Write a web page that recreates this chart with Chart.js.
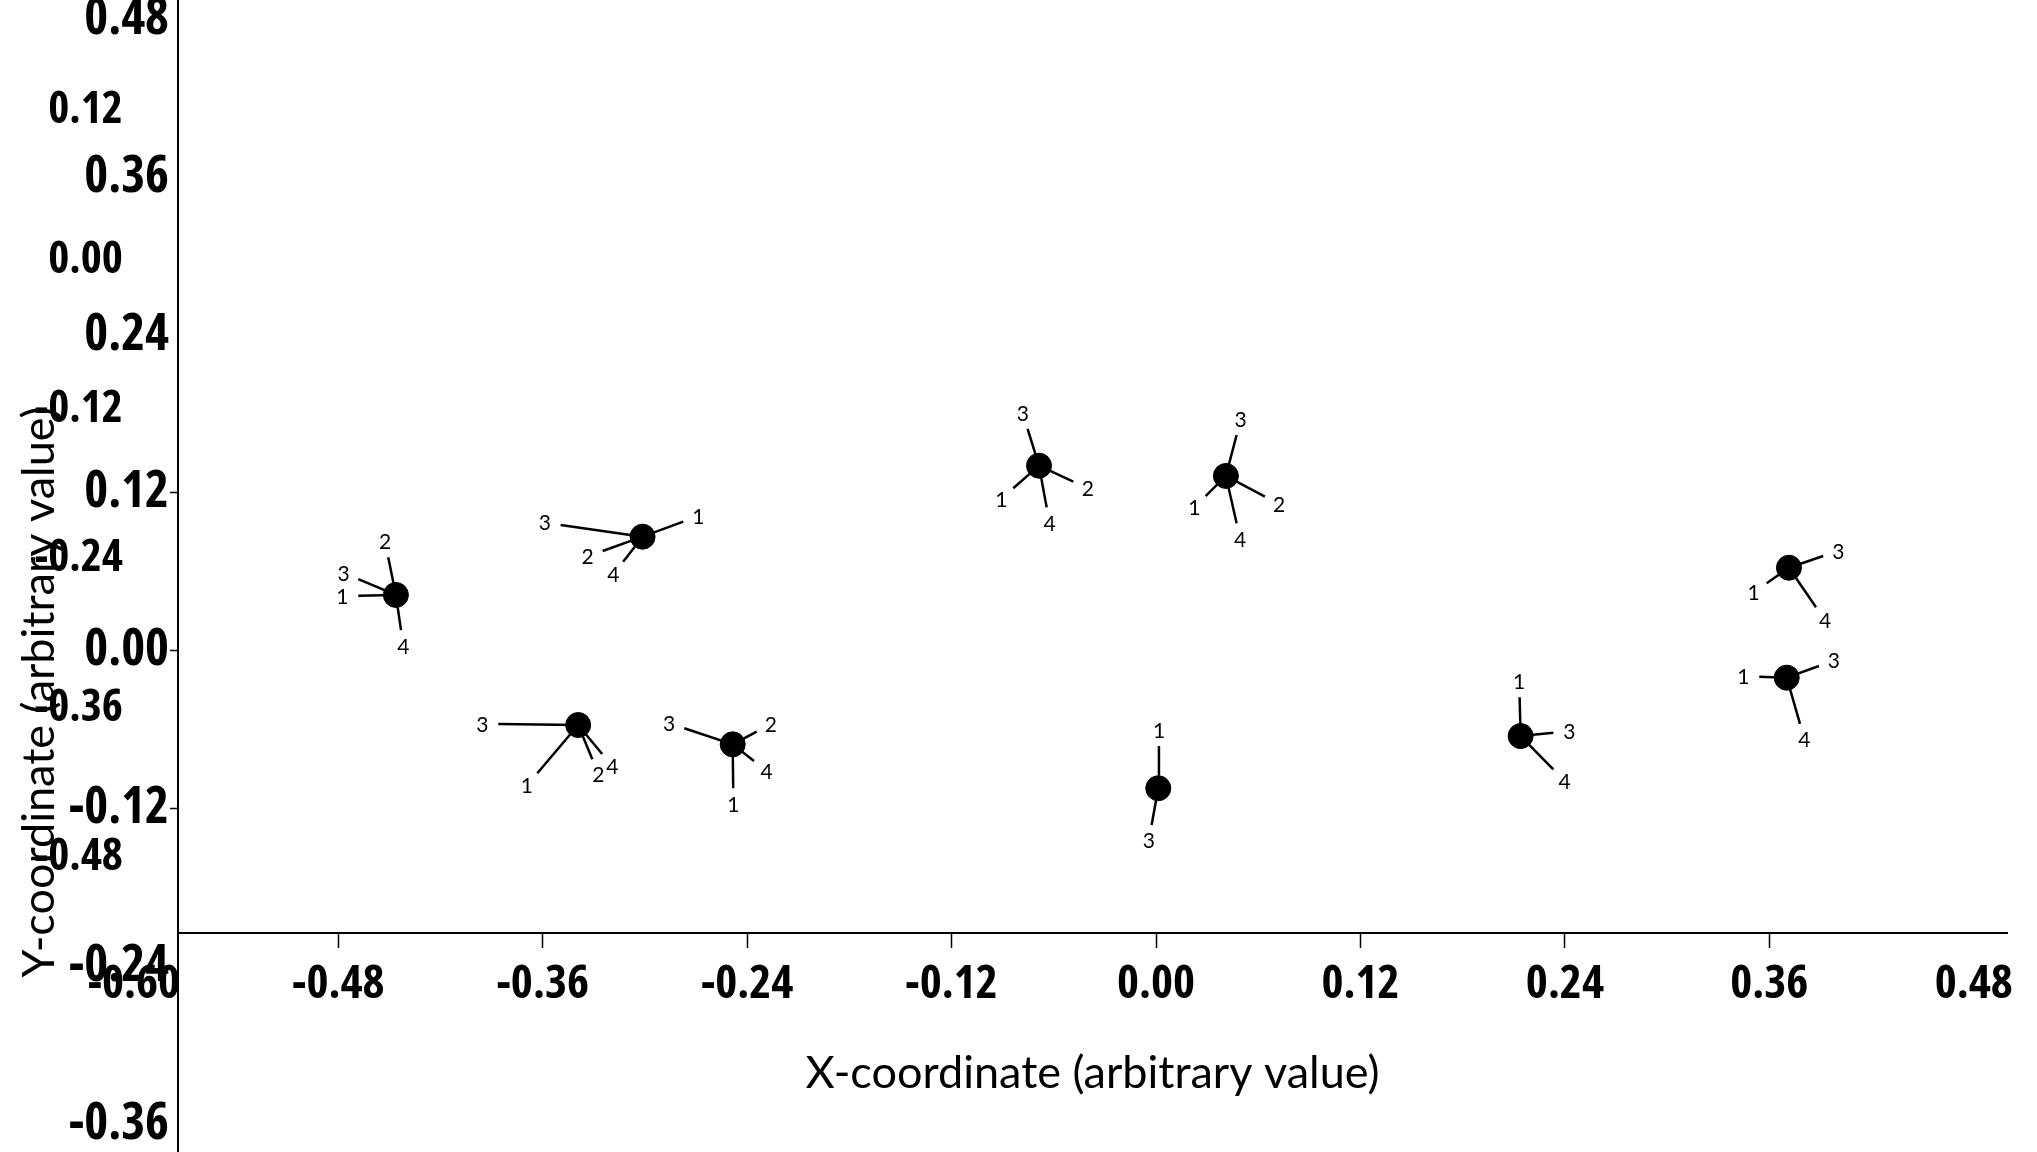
<!DOCTYPE html>
<html>
<head>
<meta charset="utf-8">
<script src="https://cdn.jsdelivr.net/npm/chart.js@4.4.1/dist/chart.umd.min.js"></script>
<style>
    html, body { margin: 0; padding: 0; background: #fff; overflow: hidden; }
    #div_c1 { width: 2037px; height: 1152px; overflow: hidden; }
</style>
</head>
<body>
<div id="div_c1"><canvas id="Chart1" width="2037" height="1384"></canvas></div>
<script>
// tick labels
var xTicks = [-0.60, -0.48, -0.36, -0.24, -0.12, 0.00, 0.12, 0.24, 0.36, 0.48];
var yTicks = [0.48, 0.36, 0.24, 0.12, 0.00, -0.12, -0.24, -0.36];
var yTicks2 = [0.12, 0.00, -0.12, -0.24, -0.36, -0.48];

// points (dots)
var pointX = [-0.4462, -0.3014, -0.3392, -0.2485, -0.0687, 0.0410, 0.0013, 0.2140, 0.3715, 0.3702];
var pointY = [0.0424, 0.0867, -0.0565, -0.0712, 0.1407, 0.1329, -0.1046, -0.0649, 0.0631, -0.0205];

// spokes of each point: label and end coordinates
var spokeLabels = [
    ['2', '3', '1', '4'],
    ['1', '3', '2', '4'],
    ['3', '1', '2', '4'],
    ['3', '2', '4', '1'],
    ['3', '1', '2', '4'],
    ['3', '1', '2', '4'],
    ['1', '3'],
    ['1', '3', '4'],
    ['3', '1', '4'],
    ['3', '1', '4']
];
var spokeEndX = [
    [-0.4507, -0.4683, -0.4683, -0.4432],
    [-0.2775, -0.3495, -0.3248, -0.3128],
    [-0.3861, -0.3632, -0.3309, -0.3251],
    [-0.2769, -0.2344, -0.2360, -0.2482],
    [-0.0754, -0.0838, -0.0486, -0.0642],
    [0.0473, 0.0291, 0.0639, 0.0473],
    [0.0017, -0.0026],
    [0.2134, 0.2332, 0.2332],
    [0.3916, 0.3584, 0.3874],
    [0.3891, 0.3541, 0.3780]
];
var spokeEndY = [
    [0.0710, 0.0545, 0.0418, 0.0157],
    [0.0981, 0.0956, 0.0758, 0.0677],
    [-0.0557, -0.0932, -0.0826, -0.0786],
    [-0.0590, -0.0616, -0.0839, -0.1046],
    [0.1686, 0.1235, 0.1285, 0.1090],
    [0.1640, 0.1176, 0.1171, 0.0969],
    [-0.0725, -0.1325],
    [-0.0354, -0.0624, -0.0902],
    [0.0720, 0.0513, 0.0330],
    [-0.0116, -0.0198, -0.0557]
];

var titleFont = "Lato, 'Open Sans', sans-serif";

// the tick numbers are a tall, narrow bold face: take the installed one closest to it
var tickFontCandidates = [
    {family: "'Liberation Sans Narrow'", weight: 'bold'},
    {family: "'DejaVu Sans Condensed'", weight: 'bold'},
    {family: "'Noto Sans'", weight: 'bold condensed'},
    {family: "'Noto Sans'", weight: 'bold semi-condensed'},
    {family: "'Open Sans'", weight: 'bold condensed'},
    {family: "'Open Sans'", weight: 'bold semi-condensed'},
    {family: "'DejaVu Sans'", weight: 'bold condensed'},
    {family: "Roboto", weight: 'bold condensed'},
    {family: "'Liberation Sans'", weight: 'bold'}
];

function pickTickFont() {
    var c = document.createElement('canvas').getContext('2d');
    var best = null;
    tickFontCandidates.forEach(function (f) {
        c.font = f.weight + ' 100px ' + f.family;
        var w = c.measureText('0.00').width;
        var h = c.measureText('0').actualBoundingBoxAscent;
        var score = Math.abs(h / w - 0.56);
        if (!best || score < best.score - 0.005) {
            best = {family: f.family, weight: f.weight, w: w, score: score};
        }
    });
    return best;
}
var tf = pickTickFont();
function tickSize(targetWidth) {
    return Math.round(targetWidth / tf.w * 100);
}

Chart.defaults.color = '#000';
Chart.defaults.font.family = titleFont;

function zeroPad(scale) {
    scale.paddingLeft = 0;
    scale.paddingRight = 0;
    scale.paddingTop = 0;
    scale.paddingBottom = 0;
}

function fmt(value) {
    return Number(value).toFixed(2);
}

var datasets = [{
    label: 'points',
    data: pointX.map(function (x, i) { return {x: x, y: pointY[i]}; }),
    backgroundColor: '#000',
    borderColor: '#000',
    pointRadius: 12.5,
    order: 0
}];
var spokeSets = [];
for (var i = 0; i < pointX.length; i++) {
    for (var j = 0; j < spokeLabels[i].length; j++) {
        datasets.push({
            label: 'spoke',
            data: [{x: pointX[i], y: pointY[i]}, {x: spokeEndX[i][j], y: spokeEndY[i][j]}],
            showLine: true,
            borderColor: '#000',
            borderWidth: 2.5,
            pointRadius: 0,
            order: 1
        });
        spokeSets.push({index: datasets.length - 1, label: spokeLabels[i][j]});
    }
}

var spokeLabelPlugin = {
    id: 'spokeLabels',
    afterDatasetsDraw: function (chart) {
        var ctx = chart.ctx;
        ctx.save();
        ctx.font = '21px ' + titleFont;
        ctx.fillStyle = '#000';
        ctx.textAlign = 'center';
        ctx.textBaseline = 'middle';
        spokeSets.forEach(function (s) {
            var meta = chart.getDatasetMeta(s.index);
            var p0 = meta.data[0], p1 = meta.data[1];
            var dx = p1.x - p0.x, dy = p1.y - p0.y;
            var len = Math.sqrt(dx * dx + dy * dy) || 1;
            ctx.fillText(s.label, p1.x + dx / len * 16, p1.y + dy / len * 16 + 1);
        });
        ctx.restore();
    }
};

var ctx1 = document.getElementById('Chart1');
var crt1 = new Chart(ctx1, {
    type: 'scatter',
    data: {datasets: datasets},
    plugins: [spokeLabelPlugin],
    options: {
        responsive: false,
        animation: false,
        devicePixelRatio: 1,
        events: [],
        layout: {autoPadding: false, padding: {left: 0, right: 30, top: 0, bottom: 0}},
        plugins: {
            legend: {display: false},
            tooltip: {enabled: false}
        },
        scales: {
            x: {
                type: 'linear',
                min: -0.5741,
                max: 0.4995,
                position: {y: -0.2147},
                afterBuildTicks: function (scale) {
                    scale.ticks = xTicks.map(function (v) { return {value: v}; });
                },
                afterFit: zeroPad,
                ticks: {
                    autoSkip: false,
                    maxRotation: 0,
                    padding: 9,
                    color: '#000',
                    font: {family: tf.family, size: tickSize(78), weight: tf.weight},
                    callback: fmt
                },
                grid: {
                    display: true,
                    drawOnChartArea: false,
                    drawTicks: true,
                    tickLength: 14,
                    tickWidth: 1.5,
                    tickColor: function (c) {
                        var v = c.tick ? c.tick.value : 0;
                        return (v > -0.55 && v < 0.42) ? '#000' : 'rgba(0,0,0,0)';
                    }
                },
                border: {display: true, color: '#000', width: 2},
                title: {
                    display: true,
                    text: 'X-coordinate (arbitrary value)',
                    color: '#000',
                    font: {family: titleFont, size: 45},
                    padding: {top: 25, bottom: 0}
                }
            },
            y: {
                type: 'linear',
                position: 'left',
                min: -0.5576,
                max: 0.4948,
                afterBuildTicks: function (scale) {
                    scale.ticks = yTicks.map(function (v) { return {value: v}; });
                },
                afterFit: function (scale) {
                    zeroPad(scale);
                    scale.width = 178;
                },
                ticks: {
                    autoSkip: false,
                    padding: 1,
                    color: '#000',
                    font: {family: tf.family, size: tickSize(85), weight: tf.weight},
                    callback: fmt
                },
                grid: {
                    display: true,
                    drawOnChartArea: false,
                    drawTicks: true,
                    tickLength: 8,
                    tickWidth: 1.5,
                    tickColor: function (c) {
                        var v = c.tick ? c.tick.value : 1;
                        return Math.abs(v) < 0.15 ? '#000' : 'rgba(0,0,0,0)';
                    }
                },
                border: {display: true, color: '#000', width: 2},
                title: {
                    display: true,
                    text: 'Y-coordinate (arbitrary value)',
                    color: '#000',
                    font: {family: titleFont, size: 45},
                    padding: {top: 12, bottom: 0}
                }
            },
            y2: {
                type: 'linear',
                position: {x: -0.6064},
                min: -0.9030,
                max: 0.2087,
                afterBuildTicks: function (scale) {
                    scale.ticks = yTicks2.map(function (v) { return {value: v}; });
                },
                afterFit: zeroPad,
                ticks: {
                    autoSkip: false,
                    padding: 0,
                    color: '#000',
                    font: {family: tf.family, size: tickSize(74), weight: tf.weight},
                    callback: fmt
                },
                grid: {display: false, drawTicks: false, drawOnChartArea: false},
                border: {display: false}
            }
        }
    }
});
</script>
</body>
</html>
